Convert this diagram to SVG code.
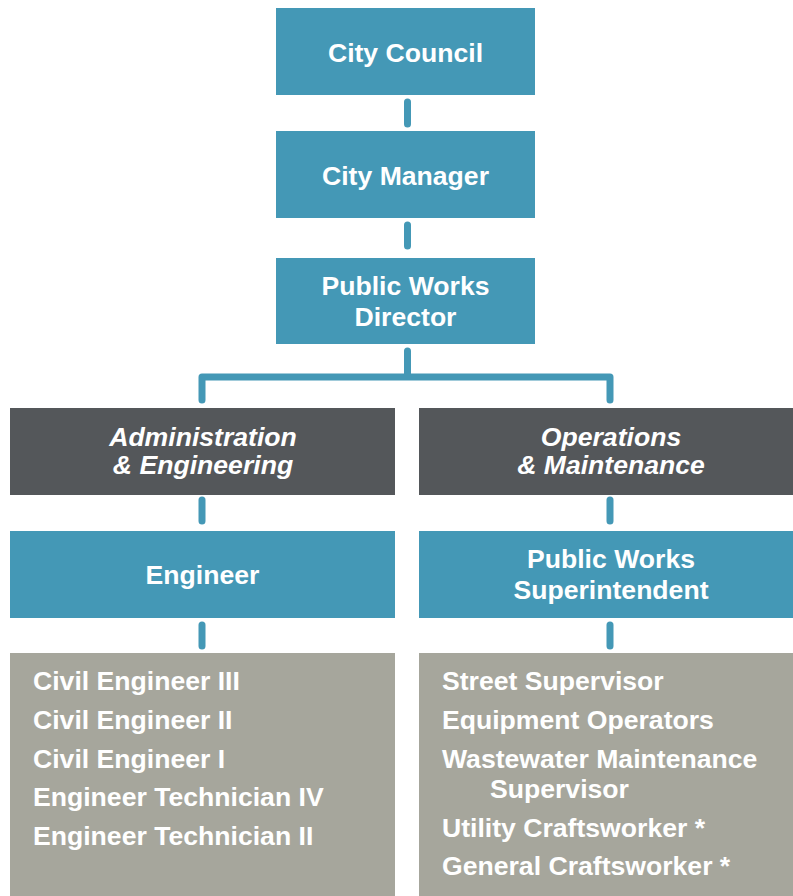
<svg xmlns="http://www.w3.org/2000/svg" width="793" height="896" viewBox="0 0 793 896">
  <style>
    .teal { fill: #4498b6; }
    .dark { fill: #54575a; }
    .list { fill: #a6a69c; }
    .lbl { font-family: "Liberation Sans", Arial, sans-serif; font-weight: bold; font-size: 26.6px; fill: #ffffff; }
    .mid { text-anchor: middle; }
    .it { font-style: italic; }
    .conn { fill: none; stroke: #4498b6; stroke-width: 7; stroke-linecap: round; stroke-linejoin: round; }
  </style>
  <rect width="793" height="896" fill="#ffffff"/>

  <g id="connectors">
    <line class="conn" x1="407.5" y1="102" x2="407.5" y2="124"/>
    <line class="conn" x1="407.5" y1="225" x2="407.5" y2="246"/>
    <path class="conn" d="M407.5 351 V377 M202 400 V377 H610 V400"/>
    <line class="conn" x1="202" y1="500" x2="202" y2="521"/>
    <line class="conn" x1="610" y1="500" x2="610" y2="521"/>
    <line class="conn" x1="202" y1="625" x2="202" y2="646"/>
    <line class="conn" x1="610" y1="625" x2="610" y2="646"/>
  </g>

  <g id="city-council">
    <rect class="teal" x="276" y="8" width="259" height="87"/>
    <text class="lbl mid" x="405.5" y="62">City Council</text>
  </g>

  <g id="city-manager">
    <rect class="teal" x="276" y="131" width="259" height="87"/>
    <text class="lbl mid" x="405.5" y="185">City Manager</text>
  </g>

  <g id="public-works-director">
    <rect class="teal" x="276" y="258" width="259" height="86"/>
    <text class="lbl mid" x="405.5" y="295">Public Works</text>
    <text class="lbl mid" x="405.5" y="326">Director</text>
  </g>

  <g id="admin-engineering">
    <rect class="dark" x="10" y="408" width="385" height="87"/>
    <text class="lbl mid it" x="203" y="446">Administration</text>
    <text class="lbl mid it" x="203" y="474">&amp; Engineering</text>
  </g>

  <g id="operations-maintenance">
    <rect class="dark" x="419" y="408" width="374" height="87"/>
    <text class="lbl mid it" x="611" y="446">Operations</text>
    <text class="lbl mid it" x="611" y="474">&amp; Maintenance</text>
  </g>

  <g id="engineer">
    <rect class="teal" x="10" y="531" width="385" height="87"/>
    <text class="lbl mid" x="202.5" y="584">Engineer</text>
  </g>

  <g id="superintendent">
    <rect class="teal" x="419" y="531" width="374" height="87"/>
    <text class="lbl mid" x="611" y="568">Public Works</text>
    <text class="lbl mid" x="611" y="599">Superintendent</text>
  </g>

  <g id="engineering-staff">
    <rect class="list" x="10" y="653" width="385" height="243"/>
    <text class="lbl" x="33" y="690">Civil Engineer III</text>
    <text class="lbl" x="33" y="729">Civil Engineer II</text>
    <text class="lbl" x="33" y="768">Civil Engineer I</text>
    <text class="lbl" x="33" y="806">Engineer Technician IV</text>
    <text class="lbl" x="33" y="845">Engineer Technician II</text>
  </g>

  <g id="operations-staff">
    <rect class="list" x="419" y="653" width="374" height="243"/>
    <text class="lbl" x="442" y="690">Street Supervisor</text>
    <text class="lbl" x="442" y="729">Equipment Operators</text>
    <text class="lbl" x="442" y="768">Wastewater Maintenance</text>
    <text class="lbl" x="490" y="798">Supervisor</text>
    <text class="lbl" x="442" y="837">Utility Craftsworker *</text>
    <text class="lbl" x="442" y="875">General Craftsworker *</text>
  </g>
</svg>
